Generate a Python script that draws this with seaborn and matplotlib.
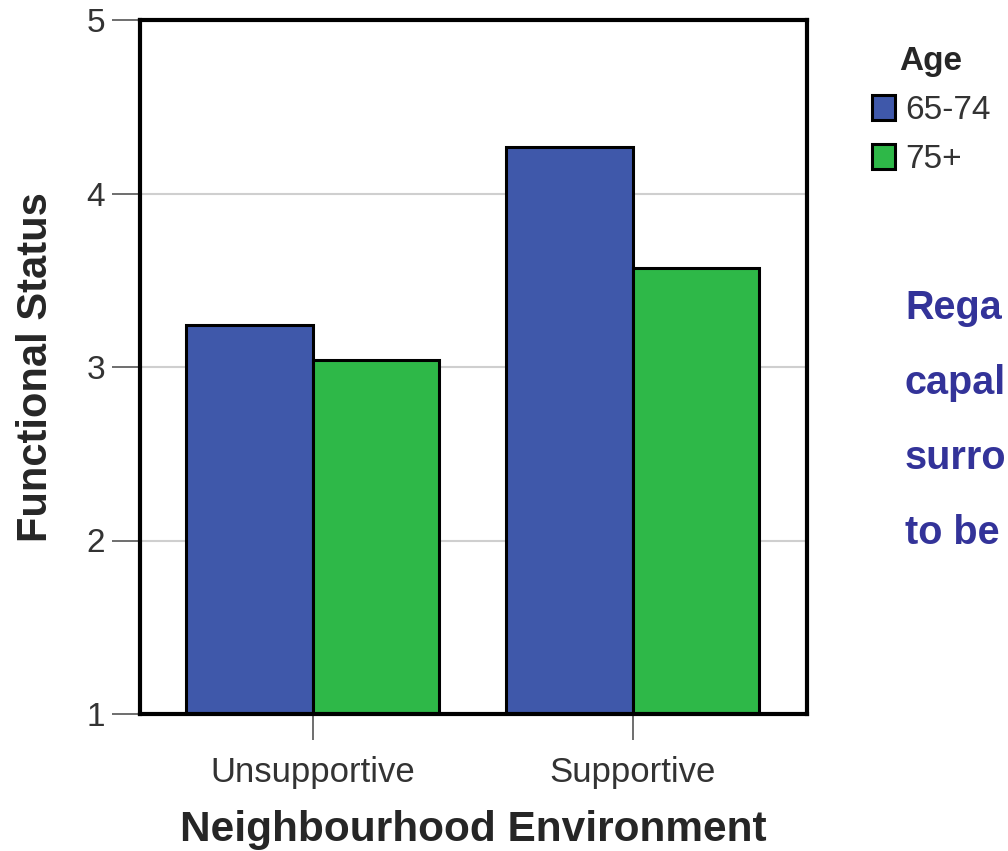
import matplotlib
matplotlib.use("Agg")
import matplotlib.pyplot as plt
import seaborn as sns
import pandas as pd

# data
environments = ["Unsupportive", "Supportive"]
age_groups = ["65-74", "75+"]
status_65_74 = [3.24, 4.27]
status_75_plus = [3.04, 3.57]
y_ticks = [1, 2, 3, 4, 5]
# the note is cut off at the right edge in the reference, only these parts show
note_lines = ["Rega", "capal", "surro", "to be"]

colors = {"65-74": "#3F58AA", "75+": "#2EB848"}

df = pd.DataFrame({
    "Neighbourhood Environment": environments * 2,
    "Age": [age_groups[0]] * 2 + [age_groups[1]] * 2,
    "Functional Status": status_65_74 + status_75_plus,
})

sns.set_theme(style="white")
plt.rcParams["font.family"] = ["Liberation Sans", "DejaVu Sans"]

fig = plt.figure(figsize=(10.08, 8.51), dpi=100)
ax = fig.add_axes([140 / 1008, 1 - 714 / 851, 667 / 1008, 694 / 851])

ax.set_axisbelow(True)
for yv in [2, 3, 4]:
    ax.axhline(yv, color="#cfcfcf", lw=1.5, zorder=0)

sns.barplot(data=df, x="Neighbourhood Environment", y="Functional Status",
            hue="Age", hue_order=age_groups, palette=colors, width=0.79,
            edgecolor="black", linewidth=2.2, saturation=1, ax=ax, zorder=2)

ax.set_ylim(1, 5)
ax.set_xlim(-0.54, 1.544)
ax.set_yticks(y_ticks)
ax.set_yticklabels([str(t) for t in y_ticks])

for sp in ax.spines.values():
    sp.set_visible(True)
    sp.set_color("black")
    sp.set_linewidth(3)

ax.tick_params(axis="y", length=20, width=1.2, color="#555555", pad=5,
               labelsize=24, labelcolor="#333333", left=True)
ax.tick_params(axis="x", length=19, width=1.2, color="#555555", pad=11,
               labelsize=25, labelcolor="#333333", bottom=True)

ax.set_xlabel("Neighbourhood Environment", fontsize=30.5, fontweight="bold", labelpad=15)
ax.set_ylabel("Functional Status", fontsize=30, fontweight="bold", labelpad=22)

sns.move_legend(ax, loc="upper left", bbox_to_anchor=(850 / 1008, 1 - 24 / 851),
                bbox_transform=fig.transFigure, title="Age", frameon=False,
                fontsize=24, title_fontsize=24, handlelength=0.7, handleheight=0.75,
                handletextpad=0.3, labelspacing=0.55, borderpad=0.15)
leg = ax.get_legend()
leg.get_title().set_fontweight("bold")
for t in leg.get_texts():
    t.set_color("#333333")
for h in leg.legend_handles:
    h.set_edgecolor("black")
    h.set_linewidth(2.2)

for i, line in enumerate(note_lines):
    fig.text(905 / 1008, 1 - (308 + i * 75) / 851, line, fontsize=28.5,
             fontweight="bold", color="#333399", va="center", ha="left")

fig.savefig("out.png", dpi=100)
